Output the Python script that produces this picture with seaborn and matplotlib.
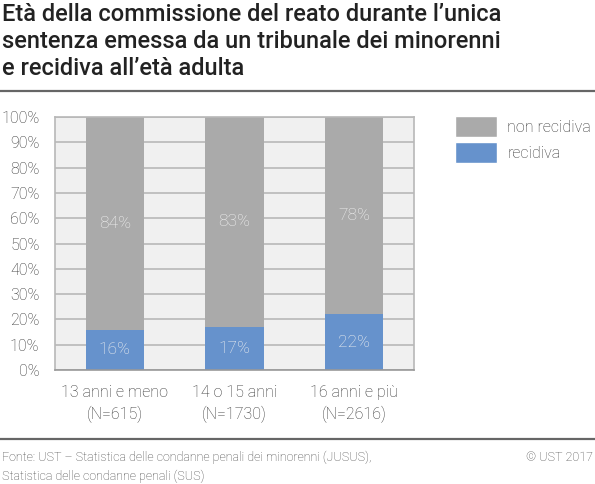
import matplotlib
matplotlib.use("Agg")
import matplotlib.pyplot as plt
import seaborn as sns
import pandas as pd
from matplotlib.patches import Patch
from matplotlib.lines import Line2D

categories = ["13 anni e meno\n(N=615)", "14 o 15 anni\n(N=1730)", "16 anni e più\n(N=2616)"]
recidiva = [16, 17, 22]
non_recidiva = [84, 83, 78]
yticks = [0, 10, 20, 30, 40, 50, 60, 70, 80, 90, 100]

GRAY = "#aaaaaa"
BLUE = "#6692cc"

sns.set_theme(style="white")
plt.rcParams['font.family'] = ['Roboto', 'DejaVu Sans']

df = pd.DataFrame({"cat": categories,
                   "rec": recidiva,
                   "non": non_recidiva})
df["tot"] = df["rec"] + df["non"]

fig = plt.figure(figsize=(5.95, 4.84), dpi=100)
ax = fig.add_axes([55/595, 1-370/484, (414-55)/595, (370-117)/484])
ax.set_facecolor("#f0f0f0")
ax.set_axisbelow(True)
ax.yaxis.grid(True, color="#b8b8b8", linewidth=1.2)

sns.barplot(data=df, x="cat", y="tot", color=GRAY, width=0.49, ax=ax,
            saturation=1, edgecolor="none", linewidth=0)
sns.barplot(data=df, x="cat", y="rec", color=BLUE, width=0.49, ax=ax,
            saturation=1, edgecolor="none", linewidth=0)

for i, (r, n) in enumerate(zip(recidiva, non_recidiva)):
    ax.text(i, r/2, f"{r}%", ha="center", va="center", color="#f2f2f2",
            fontsize=12.5, fontweight="light")
    ax.text(i, r + n/2, f"{n}%", ha="center", va="center", color="#f2f2f2",
            fontsize=12.5, fontweight="light")

ax.set_xlim(-0.5, 2.5)
ax.set_ylim(0, 100)
ax.set_yticks(yticks)
ax.set_yticklabels([f"{t}%" for t in yticks])
ax.set_xlabel("")
ax.set_ylabel("")
for s in ax.spines.values():
    s.set_color("#b8b8b8")
    s.set_linewidth(1.2)
ax.spines["bottom"].set_color("#999999")
ax.tick_params(axis="both", labelsize=11.5, labelcolor="#333333")
ax.tick_params(axis="x", length=0, pad=11)
ax.tick_params(axis="y", length=2.2, width=1.2, color="#b8b8b8", pad=9)
for lab in ax.get_yticklabels() + ax.get_xticklabels():
    lab.set_fontweight("light")
for lab in ax.get_xticklabels():
    lab.set_linespacing(1.45)
for lab in ax.get_yticklabels():
    lab.set_horizontalalignment("right")

handles = [Patch(facecolor=GRAY, label="non recidiva"),
           Patch(facecolor=BLUE, label="recidiva")]
leg = fig.legend(handles=handles, loc="upper left", bbox_to_anchor=(455/595, 1-116/484),
                 frameon=False, fontsize=11.5, handlelength=2.63, handleheight=1.65,
                 handletextpad=0.65, labelspacing=0.33, borderaxespad=0, borderpad=0)
for t in leg.get_texts():
    t.set_color("#333333")
    t.set_fontweight("light")

fig.text(2/595, 1-3/484,
         "Età della commissione del reato durante l’unica\n"
         "sentenza emessa da un tribunale dei minorenni\n"
         "e recidiva all’età adulta",
         ha="left", va="top", fontsize=17, fontweight="medium", color="#222222",
         linespacing=1.22)

fig.add_artist(Line2D([0, 1], [1-91/484, 1-91/484], color="#666666", linewidth=1.6,
                      transform=fig.transFigure))
fig.add_artist(Line2D([0, 1], [1-439/484, 1-439/484], color="#666666", linewidth=1.6,
                      transform=fig.transFigure))

fig.text(2/595, 1-451/484,
         "Fonte: UST – Statistica delle condanne penali dei minorenni (JUSUS),\n"
         "Statistica delle condanne penali (SUS)",
         ha="left", va="top", fontsize=9, fontweight="light", color="#444444",
         linespacing=1.5)
fig.text(593/595, 1-451/484, "© UST 2017", ha="right", va="top", fontsize=9,
         fontweight="light", color="#444444")

fig.savefig("out.png", dpi=100)
